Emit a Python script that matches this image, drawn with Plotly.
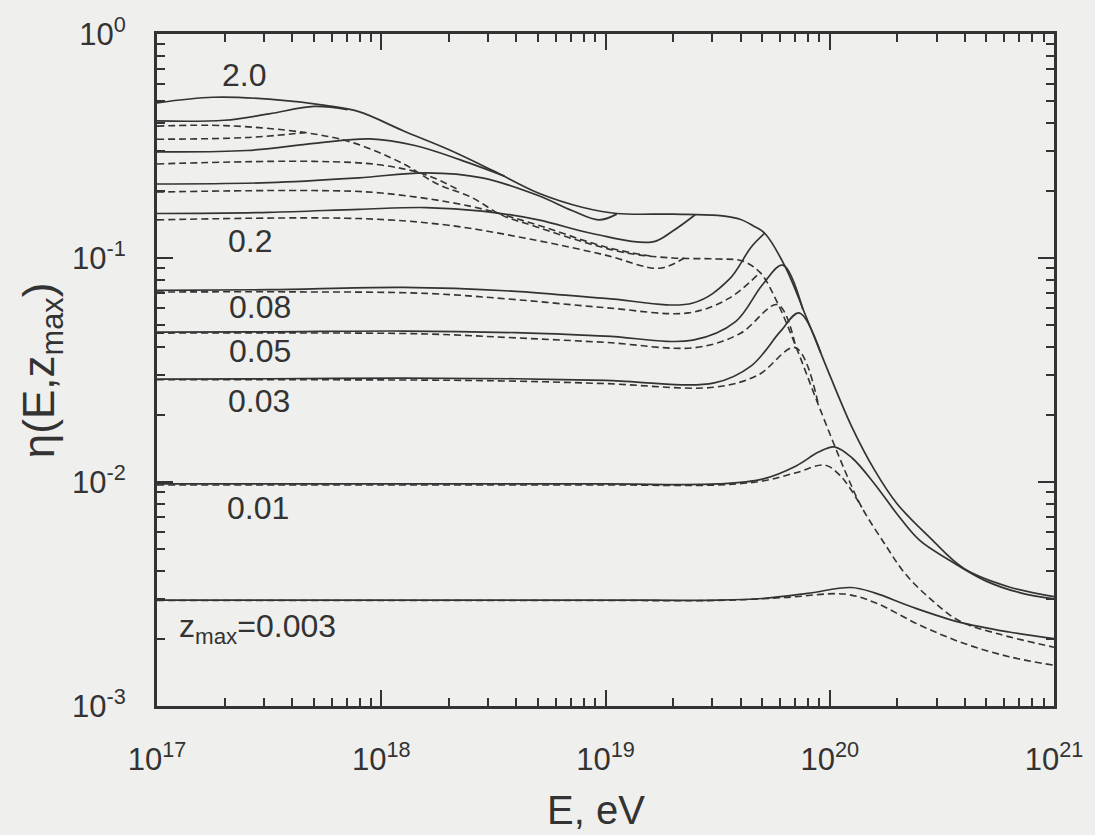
import numpy as np
import plotly.graph_objects as go

# ---- modification factor eta(E, z_max): log10(E/eV) and eta values ----
# solid curves
LGE_S_2_0 = [17.0, 17.25, 17.5, 17.75, 17.9, 18.1, 18.3, 18.5, 18.7, 18.9, 19.05, 19.3, 19.5, 19.6, 19.66,
             19.71, 19.8, 19.9, 20.0, 20.1, 20.2, 20.3, 20.45, 20.6, 20.8, 21.0]
ETA_S_2_0 = [0.493, 0.522, 0.512, 0.48, 0.45, 0.369, 0.305, 0.245, 0.195, 0.168, 0.158, 0.157, 0.155, 0.149, 0.139,
             0.129, 0.092, 0.053, 0.030, 0.0175, 0.0113, 0.0080, 0.0056, 0.0041, 0.0034, 0.00308]

LGE_S_1_0 = [17.0, 17.3, 17.5, 17.7, 17.85]
ETA_S_1_0 = [0.409, 0.412, 0.44, 0.475, 0.46]

LGE_S_0_5 = [17.0, 17.4, 17.7, 17.95, 18.15, 18.35, 18.55]
ETA_S_0_5 = [0.298, 0.302, 0.325, 0.34, 0.318, 0.275, 0.232]

LGE_S_0_3 = [17.0, 17.5, 17.9, 18.2, 18.45, 18.7, 18.85, 18.97, 19.05]
ETA_S_0_3 = [0.214, 0.217, 0.228, 0.24, 0.228, 0.19, 0.163, 0.148, 0.157]

LGE_S_0_2 = [17.0, 17.5, 17.9, 18.2, 18.45, 18.7, 18.95, 19.21, 19.3, 19.4]
ETA_S_0_2 = [0.158, 0.16, 0.165, 0.168, 0.162, 0.148, 0.128, 0.118, 0.132, 0.156]

LGE_S_0_08 = [17.0, 17.5, 18.1, 18.6, 19.0, 19.39, 19.55, 19.65, 19.71]
ETA_S_0_08 = [0.0717, 0.0722, 0.0739, 0.071, 0.066, 0.063, 0.08, 0.112, 0.129]

LGE_S_0_05 = [17.0, 17.5, 18.1, 18.6, 19.0, 19.39, 19.58, 19.7, 19.79, 19.88]
ETA_S_0_05 = [0.0467, 0.0468, 0.0472, 0.0464, 0.0448, 0.043, 0.052, 0.076, 0.093, 0.059]

LGE_S_0_03 = [17.0, 17.5, 18.1, 18.6, 19.0, 19.485, 19.65, 19.78, 19.863, 19.96]
ETA_S_0_03 = [0.0288, 0.0289, 0.0291, 0.0289, 0.0284, 0.0277, 0.033, 0.047, 0.0569, 0.0377]

LGE_S_0_01 = [17.0, 18.0, 19.0, 19.5, 19.7, 19.85, 19.95, 20.02, 20.1, 20.2, 20.3, 20.4, 20.53, 20.7,
              20.85, 21.0]
ETA_S_0_01 = [0.0098, 0.0098, 0.0098, 0.0098, 0.0103, 0.0118, 0.0136, 0.01435, 0.0128, 0.0098, 0.0072,
              0.0055, 0.0045, 0.0036, 0.0032, 0.00301]

LGE_S_0_003 = [17.0, 18.0, 19.0, 19.5, 19.7, 19.9, 20.095, 20.2, 20.37, 20.577, 20.8, 21.0]
ETA_S_0_003 = [0.00297, 0.00297, 0.00297, 0.00297, 0.00302, 0.00318, 0.00338, 0.0032, 0.00276, 0.00237,
               0.00214, 0.0020]

# dashed curves
LGE_D_2_0 = [17.0, 17.3, 17.66, 17.87, 18.1, 18.25, 18.4, 18.54, 18.69, 18.9, 19.1, 19.3, 19.5, 19.61,
             19.69, 19.767, 19.846, 19.95, 20.08, 20.143, 20.25, 20.336, 20.45, 20.577, 20.75, 21.0]
ETA_D_2_0 = [0.388, 0.39, 0.363, 0.328, 0.263, 0.214, 0.187, 0.155, 0.138, 0.118, 0.105, 0.1, 0.099, 0.097,
             0.086, 0.063, 0.041, 0.022, 0.0105, 0.0077, 0.0052, 0.0039, 0.003, 0.0024, 0.0021, 0.00183]

LGE_D_1_0 = [17.0, 17.4, 17.66]
ETA_D_1_0 = [0.339, 0.345, 0.363]

LGE_D_0_5 = [17.0, 17.7, 18.0, 18.2, 18.35]
ETA_D_0_5 = [0.263, 0.27, 0.26, 0.235, 0.2]

LGE_D_0_3 = [17.0, 17.7, 18.0, 18.4, 18.7, 19.0, 19.2]
ETA_D_0_3 = [0.197, 0.2, 0.195, 0.17, 0.14, 0.112, 0.102]

LGE_D_0_2 = [17.0, 17.9, 18.3, 18.69, 19.0, 19.24, 19.35]
ETA_D_0_2 = [0.148, 0.15, 0.14, 0.12, 0.103, 0.09, 0.1]

LGE_D_0_08 = [17.0, 17.6, 18.2, 18.6, 19.0, 19.37, 19.55, 19.678]
ETA_D_0_08 = [0.0705, 0.0706, 0.0695, 0.0652, 0.06, 0.0569, 0.066, 0.0841]

LGE_D_0_05 = [17.0, 17.6, 18.2, 18.6, 19.0, 19.4, 19.6, 19.767, 19.846]
ETA_D_0_05 = [0.0462, 0.0463, 0.0458, 0.044, 0.042, 0.0398, 0.046, 0.0619, 0.041]

LGE_D_0_03 = [17.0, 17.6, 18.2, 18.6, 19.0, 19.485, 19.68, 19.846, 19.95]
ETA_D_0_03 = [0.0286, 0.0286, 0.0285, 0.0282, 0.0275, 0.0265, 0.03, 0.0398, 0.022]

LGE_D_0_01 = [17.0, 18.0, 19.0, 19.5, 19.7, 19.85, 19.976, 20.046, 20.143]
ETA_D_0_01 = [0.0097, 0.0097, 0.0097, 0.0097, 0.0101, 0.011, 0.0119, 0.0107, 0.0077]

LGE_D_0_003 = [17.0, 18.0, 19.0, 19.5, 19.8, 20.064, 20.2, 20.4, 20.6, 20.8, 21.0]
ETA_D_0_003 = [0.00296, 0.00296, 0.00296, 0.00296, 0.00305, 0.00316, 0.0029, 0.0023, 0.0019, 0.00166, 0.00152]

SOLID = [(LGE_S_2_0, ETA_S_2_0), (LGE_S_1_0, ETA_S_1_0), (LGE_S_0_5, ETA_S_0_5), (LGE_S_0_3, ETA_S_0_3),
         (LGE_S_0_2, ETA_S_0_2), (LGE_S_0_08, ETA_S_0_08), (LGE_S_0_05, ETA_S_0_05), (LGE_S_0_03, ETA_S_0_03),
         (LGE_S_0_01, ETA_S_0_01), (LGE_S_0_003, ETA_S_0_003)]
DASHED = [(LGE_D_2_0, ETA_D_2_0), (LGE_D_1_0, ETA_D_1_0), (LGE_D_0_5, ETA_D_0_5), (LGE_D_0_3, ETA_D_0_3),
          (LGE_D_0_2, ETA_D_0_2), (LGE_D_0_08, ETA_D_0_08), (LGE_D_0_05, ETA_D_0_05), (LGE_D_0_03, ETA_D_0_03),
          (LGE_D_0_01, ETA_D_0_01), (LGE_D_0_003, ETA_D_0_003)]

# curve labels: text, log10(E), log10(eta)
CURVE_LABELS = [("2.0", 17.389, -0.182), ("0.2", 17.415, -0.922), ("0.08", 17.459, -1.218),
                ("0.05", 17.459, -1.413), ("0.03", 17.455, -1.639), ("0.01", 17.450, -2.118)]
ZMAX_LABEL = ("z<sub>max</sub>=0.003", 17.088, -2.655)

X_TICKS = [17, 18, 19, 20, 21]
Y_TICKS = [-3, -2, -1, 0]
MINOR_DIGITS = [2, 3, 4, 5, 6, 7, 8, 9]

INK = "#333333"
BG = "#efefed"
FONT = "Liberation Sans, Arial, Helvetica, sans-serif"

fig = go.Figure()
for lge, eta in DASHED:
    fig.add_trace(go.Scatter(x=10.0 ** np.array(lge), y=eta, mode="lines",
                             line=dict(color=INK, width=1.6, dash="7px,4px", shape="spline", smoothing=1.0),
                             hoverinfo="skip", showlegend=False))
for lge, eta in SOLID:
    fig.add_trace(go.Scatter(x=10.0 ** np.array(lge), y=eta, mode="lines",
                             line=dict(color=INK, width=1.7, shape="spline", smoothing=1.0),
                             hoverinfo="skip", showlegend=False))

for txt, lx, ly in CURVE_LABELS:
    fig.add_annotation(x=lx, y=ly, text=txt, showarrow=False, xanchor="center", yanchor="middle",
                       font=dict(size=32, color=INK, family=FONT))
fig.add_annotation(x=ZMAX_LABEL[1], y=ZMAX_LABEL[2], text=ZMAX_LABEL[0], showarrow=False,
                   xanchor="left", yanchor="middle", font=dict(size=32, color=INK, family=FONT))


def minor_vals(decades):
    return [d * 10.0 ** p for p in decades[:-1] for d in MINOR_DIGITS]


axis_common = dict(type="log", showgrid=False, zeroline=False, showline=True, linecolor=INK, linewidth=3,
                   mirror="ticks", ticks="inside", ticklen=16, tickwidth=2, tickcolor=INK,
                   tickfont=dict(size=31, color=INK, family=FONT))

fig.update_xaxes(range=[17, 21], tickvals=[10.0 ** t for t in X_TICKS],
                 ticktext=[f"10<sup>{t}</sup>" for t in X_TICKS], ticklabelstandoff=24,
                 minor=dict(tickvals=minor_vals(X_TICKS), ticks="inside", ticklen=8, tickwidth=1.8,
                            tickcolor=INK, showgrid=False),
                 **axis_common)
fig.update_yaxes(range=[-3, 0], tickvals=[10.0 ** t for t in Y_TICKS],
                 ticktext=[f"10<sup>{t}</sup>" for t in Y_TICKS], ticklabelstandoff=22,
                 minor=dict(tickvals=minor_vals(Y_TICKS), ticks="inside", ticklen=8, tickwidth=1.8,
                            tickcolor=INK, showgrid=False),
                 **axis_common)

fig.add_annotation(xref="paper", yref="paper", x=0.489, y=-0.191, text="E, eV", showarrow=False,
                   xanchor="center", yanchor="bottom", font=dict(size=40, color=INK, family=FONT))
fig.add_annotation(xref="paper", yref="paper", x=-0.128, y=0.5, text="η(E,z<sub>max</sub>)", showarrow=False,
                   textangle=-90, xanchor="center", yanchor="middle", font=dict(size=44, color=INK, family=FONT))

fig.update_layout(width=1095, height=835, margin=dict(l=157, r=32, t=29, b=129),
                  paper_bgcolor=BG, plot_bgcolor=BG)

fig.write_html("out.html")
